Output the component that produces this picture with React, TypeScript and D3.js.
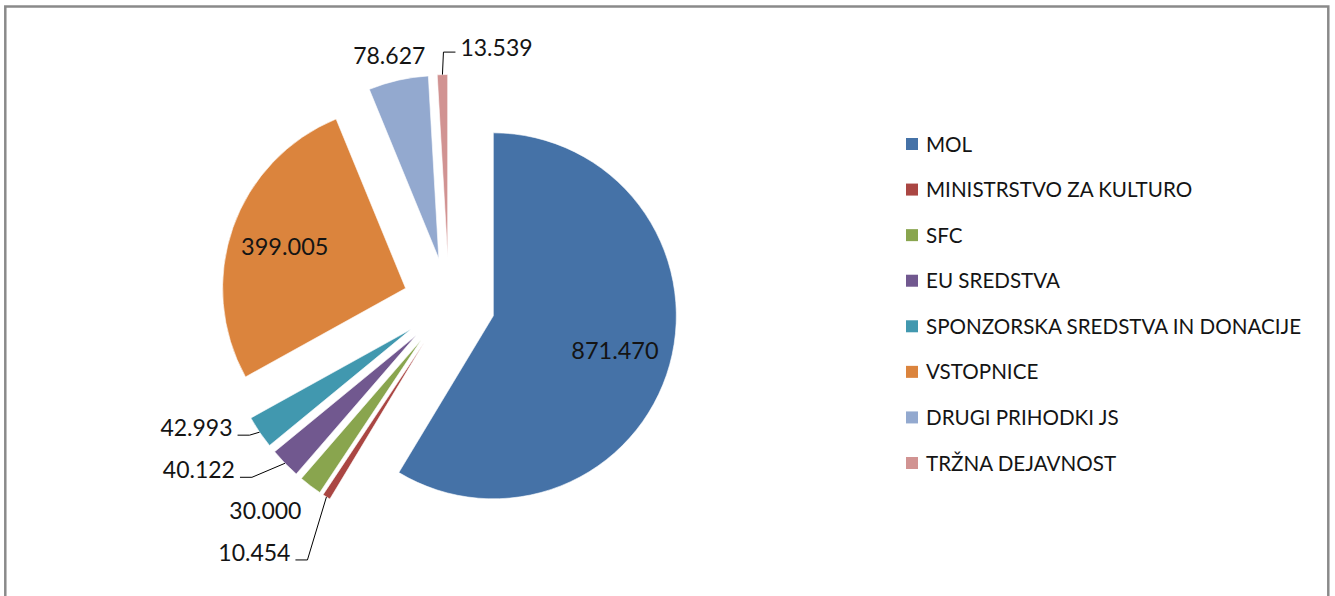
import React from 'react';
import * as d3 from 'd3';

// categories and values
const categories = [
	'MOL',
	'MINISTRSTVO ZA KULTURO',
	'SFC',
	'EU SREDSTVA',
	'SPONZORSKA SREDSTVA IN DONACIJE',
	'VSTOPNICE',
	'DRUGI PRIHODKI JS',
	'TRŽNA DEJAVNOST',
];
const values = [871470, 10454, 30000, 40122, 42993, 399005, 78627, 13539];
const valueLabels = ['871.470', '10.454', '30.000', '40.122', '42.993', '399.005', '78.627', '13.539'];
const colors = ['#4572A7', '#AA4643', '#89A54E', '#71588F', '#4198AF', '#DB843D', '#93A9CF', '#D19392'];

// label placement, as in the Excel sheet (inside = on the slice, else offset from the outer point)
type LabelLayout = { inside?: number; dx?: number; dy?: number; anchor?: 'start' | 'middle' | 'end'; leader?: boolean };
const labelLayout: LabelLayout[] = [
	{ inside: 0.69 },
	{ dx: -36, dy: 55, anchor: 'end', leader: true },
	{ dx: -45, dy: 24, anchor: 'middle' },
	{ dx: -50, dy: 6, anchor: 'end', leader: true },
	{ dx: -27, dy: -5, anchor: 'end', leader: true },
	{ inside: 0.7 },
	{ dx: -9, dy: -25, anchor: 'middle' },
	{ dx: 18, dy: -28, anchor: 'start', leader: true },
];

const width = 1335;
const height = 596;
const cx = 449;
const cy = 303.5;
const radius = 183;
const explode = 46;
const font = 'Lato, "Open Sans", sans-serif';
const textColor = '#141414';

export default function App() {
	const pie = d3.pie<number>().sort(null).startAngle(0).endAngle(2 * Math.PI);
	const arcs = pie(values);
	const arc = d3.arc<d3.PieArcDatum<number>>().innerRadius(0).outerRadius(radius);

	const legendY = d3.scalePoint<string>().domain(categories).range([143.5, 462.5]);

	return (
		<svg width={width} height={height} style={{ position: 'absolute', left: 0, top: 0, background: '#fff' }}>
			<rect x={5.3} y={6.5} width={1323} height={640} fill="#fff" stroke="#8a8a8a" strokeWidth={2.5} />
			<g transform={`translate(${cx},${cy})`}>
				{arcs.map((a, i) => {
					const mid = (a.startAngle + a.endAngle) / 2;
					const ox = Math.sin(mid) * explode;
					const oy = -Math.cos(mid) * explode;
					return (
						<g key={categories[i]} transform={`translate(${ox},${oy})`}>
							<path d={arc(a) || ''} fill={colors[i]} stroke="#fff" strokeWidth={0.6} />
						</g>
					);
				})}
				{arcs.map((a, i) => {
					const mid = (a.startAngle + a.endAngle) / 2;
					const ux = Math.sin(mid);
					const uy = -Math.cos(mid);
					const ax = ux * explode;
					const ay = uy * explode;
					const L = labelLayout[i];
					if (L.inside) {
						return (
							<text key={'l' + i} x={ax + ux * radius * L.inside} y={ay + uy * radius * L.inside}
								textAnchor="middle" dominantBaseline="central" fontFamily={font} fontSize={23.5} fill={textColor}>
								{valueLabels[i]}
							</text>
						);
					}
					const px = ax + ux * radius;
					const py = ay + uy * radius;
					const tx = px + (L.dx || 0);
					const ty = py + (L.dy || 0);
					let leader = null;
					if (L.leader) {
						const s = L.anchor === 'end' ? 1 : -1;
						const ly = L.anchor === 'end' ? ty + 8 : ty + 5.5;
						const pts: [number, number][] = [[px, py], [tx + s * 17, ly], [tx + s * 5, ly]];
						leader = <path d={d3.line()(pts) || ''} fill="none" stroke="#000" strokeWidth={1} />;
					}
					return (
						<g key={'l' + i}>
							{leader}
							<text x={tx} y={ty} textAnchor={L.anchor} dominantBaseline="central" fontFamily={font} fontSize={23} fill={textColor}>
								{valueLabels[i]}
							</text>
						</g>
					);
				})}
			</g>
			<g>
				{categories.map((c, i) => (
					<g key={c} transform={`translate(906,${legendY(c)})`}>
						<rect x={0} y={-5.5} width={12} height={12} fill={colors[i]} />
						<text x={20} y={0} dominantBaseline="central" fontFamily={font} fontSize={20.6} fill={textColor}>{c}</text>
					</g>
				))}
			</g>
		</svg>
	);
}
